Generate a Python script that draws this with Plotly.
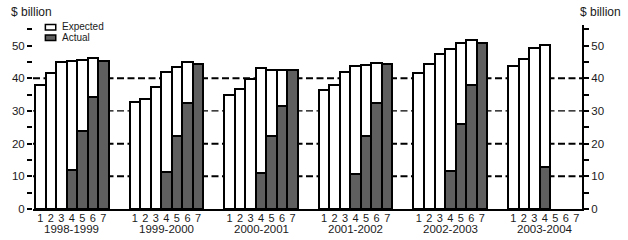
import plotly.graph_objects as go

years = ["1998-1999", "1999-2000", "2000-2001", "2001-2002", "2002-2003", "2003-2004"]
positions = ["1", "2", "3", "4", "5", "6", "7"]

expected = [
    [38.0, 41.6, 44.9, 45.3, 45.6, 46.2, 45.4],
    [32.7, 33.6, 37.4, 42.0, 43.6, 45.1, 44.5],
    [34.8, 36.7, 39.9, 43.1, 42.6, 42.6, 42.6],
    [36.4, 37.9, 42.0, 43.7, 44.0, 44.6, 44.5],
    [41.6, 44.4, 47.4, 49.1, 50.8, 51.7, 50.8],
    [43.7, 45.9, 49.2, 50.3, None, None, None],
]
actual = [
    [None, None, None, 11.9, 23.9, 34.4, 45.4],
    [None, None, None, 11.2, 22.4, 32.5, 44.5],
    [None, None, None, 10.9, 22.2, 31.6, 42.6],
    [None, None, None, 10.6, 22.3, 32.3, 44.5],
    [None, None, None, 11.6, 26.1, 37.8, 50.8],
    [None, None, None, 12.8, None, None, None],
]

SLOTS = 9  # 7 bars + 2 empty slots per year group
xs, xlab, ye, ya = [], [], [], []
for g, yr in enumerate(years):
    for i, p in enumerate(positions):
        xs.append(g * SLOTS + i + 1)
        xlab.append(p)
        ye.append(expected[g][i])
        ya.append(actual[g][i])

FONT = "Liberation Sans, Arial, sans-serif"
TXT = "#1a1a1a"

fig = go.Figure()
fig.add_trace(go.Bar(x=xs, y=ye, name="Expected", width=1,
                     marker=dict(color="white", line=dict(color="black", width=2)),
                     showlegend=False))
fig.add_trace(go.Bar(x=xs, y=ya, name="Actual", width=1,
                     marker=dict(color="#5f5f5f", line=dict(color="black", width=2)),
                     showlegend=False))

YMAX = 56.3
XMIN, XMAX = 0.31, 52.53

# dashed reference lines
for v, w in [(10, 2), (20, 2), (30, 1.2), (40, 2)]:
    fig.add_shape(type="line", xref="paper", x0=0, x1=1, yref="y", y0=v, y1=v,
                  line=dict(color="black", width=w, dash="7px,3.5px"), layer="below")

# manual legend
def px2paper_x(px):
    return (px - 27) / 555.0
def px2paper_y(py):
    return (209.3 - py) / 184.3

fig.add_shape(type="rect", xref="paper", yref="paper",
              x0=px2paper_x(39.5), x1=px2paper_x(50), y0=px2paper_y(30), y1=px2paper_y(24.5),
              fillcolor="white", line=dict(color="black", width=1.5))
fig.add_shape(type="rect", xref="paper", yref="paper",
              x0=px2paper_x(39.5), x1=px2paper_x(50), y0=px2paper_y(40.5), y1=px2paper_y(35),
              fillcolor="#5f5f5f", line=dict(color="black", width=1.5))
fig.add_annotation(text="Expected", xref="paper", yref="paper", x=px2paper_x(55), y=px2paper_y(26.3),
                   xanchor="left", yanchor="middle", showarrow=False, borderpad=0,
                   font=dict(size=10, family=FONT, color=TXT))
fig.add_annotation(text="Actual", xref="paper", yref="paper", x=px2paper_x(55), y=px2paper_y(38),
                   xanchor="left", yanchor="middle", showarrow=False, borderpad=0,
                   font=dict(size=10, family=FONT, color=TXT))

# units
fig.add_annotation(text="$ billion", xref="paper", yref="paper", x=px2paper_x(3), y=px2paper_y(12),
                   xanchor="left", yanchor="middle", showarrow=False, font=dict(size=12, family=FONT, color=TXT))
fig.add_annotation(text="$ billion", xref="paper", yref="paper", x=px2paper_x(578), y=px2paper_y(12),
                   xanchor="left", yanchor="middle", showarrow=False, font=dict(size=12, family=FONT, color=TXT))

# year group labels
for g, yr in enumerate(years):
    fig.add_annotation(text=yr, xref="x", yref="paper", x=g * SLOTS + 4, y=px2paper_y(229.5),
                       xanchor="center", yanchor="middle", showarrow=False,
                       font=dict(size=11.5, family=FONT, color=TXT))

yax_common = dict(range=[0, YMAX], tickvals=[0, 10, 20, 30, 40, 50], showgrid=False, zeroline=False,
                  ticks="outside", ticklen=5, tickwidth=2, tickcolor="black",
                  minor=dict(tickvals=[5, 15, 25, 35, 45, 55], ticks="outside", ticklen=5,
                             tickwidth=2, tickcolor="black", showgrid=False),
                  tickfont=dict(size=11.5, family=FONT, color=TXT), fixedrange=True)

fig.update_layout(
    width=628, height=240,
    margin=dict(l=27, r=46, t=25, b=31),
    paper_bgcolor="white", plot_bgcolor="white",
    barmode="overlay", bargap=0,
    showlegend=False,
    xaxis=dict(range=[XMIN, XMAX], tickmode="array", tickvals=xs, ticktext=xlab,
               showgrid=False, zeroline=False, showline=True, linecolor="black", linewidth=2,
               ticks="", tickfont=dict(size=11, family=FONT, color=TXT), ticklabelstandoff=-2),
    yaxis=dict(**yax_common, showline=False, side="left"),
    yaxis2=dict(**yax_common, showline=True, linecolor="black", linewidth=2,
                side="right", overlaying="y", anchor="x"),
)
fig.add_trace(go.Scatter(x=[xs[0]], y=[0], yaxis="y2", mode="markers",
                         marker=dict(opacity=0), showlegend=False, hoverinfo="skip"))

fig.write_html("out.html")
